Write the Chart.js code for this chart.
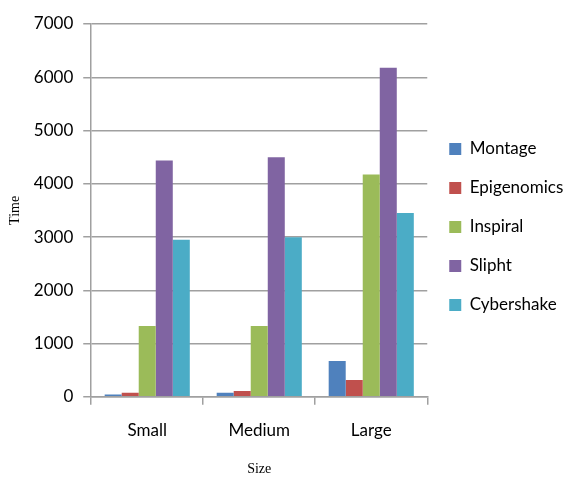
<!DOCTYPE html>
<html>
<head>
<meta charset="utf-8">
<script src="https://cdn.jsdelivr.net/npm/chart.js@4.4.0/dist/chart.umd.min.js"></script>
<style>
  html, body { margin: 0; padding: 0; background: #fff; }
  #wrap { width: 574px; height: 478px; }
</style>
</head>
<body>
<div id="wrap"><canvas id="timeChart"></canvas></div>
<script>
// Data
const sizes = ['Small', 'Medium', 'Large'];
const montage = [45, 75, 672];
const epigenomics = [75, 107, 314];
const inspiral = [1331, 1331, 4175];
const slipht = [4438, 4500, 6177];
const cybershake = [2951, 2994, 3452];
const yTicks = [0, 1000, 2000, 3000, 4000, 5000, 6000, 7000];

const labelFont = { family: 'Lato', size: 17 };
const titleFont = { family: 'Liberation Serif', size: 14 };

new Chart(document.getElementById('timeChart'), {
  type: 'bar',
  data: {
    labels: sizes,
    datasets: [
      { label: 'Montage', data: montage, backgroundColor: '#4F81BD' },
      { label: 'Epigenomics', data: epigenomics, backgroundColor: '#C0504D' },
      { label: 'Inspiral', data: inspiral, backgroundColor: '#9BBB59' },
      { label: 'Slipht', data: slipht, backgroundColor: '#8064A2' },
      { label: 'Cybershake', data: cybershake, backgroundColor: '#4BACC6' }
    ]
  },
  options: {
    responsive: true,
    maintainAspectRatio: false,
    animation: false,
    categoryPercentage: 0.76,
    barPercentage: 1,
    layout: { padding: { top: 24, left: 5, right: 6, bottom: 0 } },
    plugins: {
      legend: {
        position: 'right',
        align: 'start',
        title: { display: true, text: '', padding: { top: 80, bottom: 0 } },
        labels: {
          boxWidth: 12,
          boxHeight: 12,
          padding: 22,
          color: '#000',
          font: labelFont
        }
      },
      tooltip: { enabled: false }
    },
    scales: {
      x: {
        grid: {
          offset: true,
          drawOnChartArea: false,
          drawTicks: true,
          tickLength: 8,
          color: '#a0a0a0',
          lineWidth: 1.5
        },
        border: { color: '#a0a0a0', width: 1.5 },
        ticks: { color: '#000', font: labelFont, padding: 16 },
        title: { display: true, text: 'Size', color: '#000', font: titleFont, padding: { top: 4, bottom: 0 } }
      },
      y: {
        min: 0,
        max: 7000,
        afterBuildTicks: axis => { axis.ticks = yTicks.map(v => ({ value: v })); },
        grid: {
          color: '#a0a0a0',
          lineWidth: 1.5,
          tickLength: 8
        },
        border: { color: '#a0a0a0', width: 1.5 },
        ticks: { color: '#000', font: labelFont, padding: 10, callback: v => String(v) },
        title: { display: true, text: 'Time', color: '#000', font: titleFont, padding: { top: 2, bottom: 0 } }
      }
    }
  }
});
</script>
</body>
</html>
